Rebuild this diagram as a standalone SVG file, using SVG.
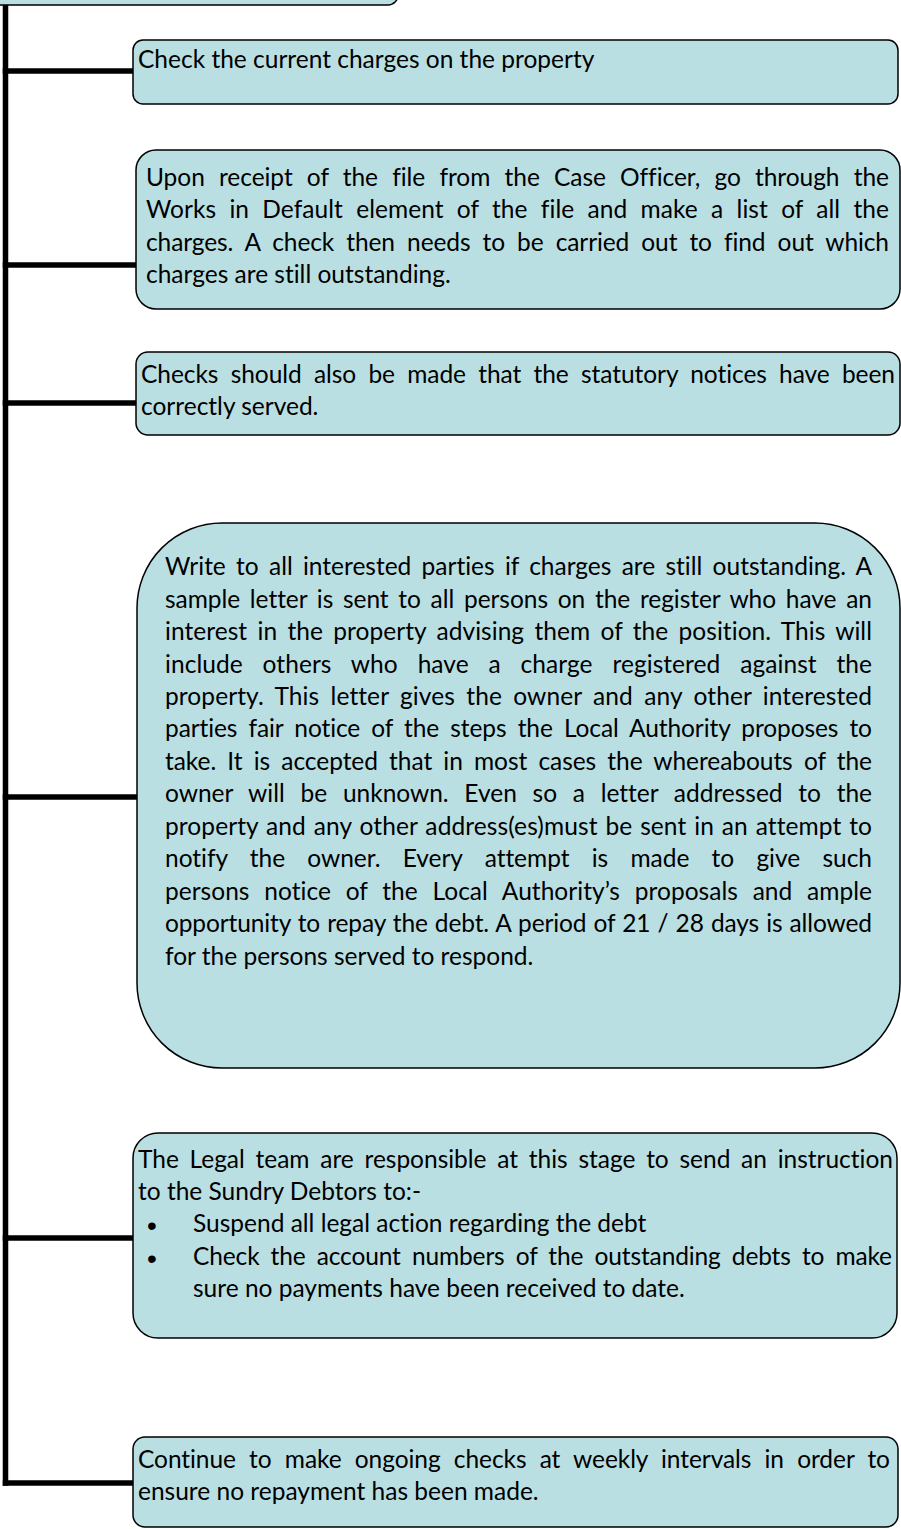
<svg xmlns="http://www.w3.org/2000/svg" width="901" height="1529" viewBox="0 0 901 1529">
  <style>
    .box { fill: #B9DFE3; stroke: #000000; stroke-width: 1.5; }
    .t { font-family: Lato, "Open Sans", "Liberation Sans", sans-serif; font-size: 24.5px; fill: #000000; font-variant-ligatures: none; font-feature-settings: "liga" 0, "clig" 0, "dlig" 0; }
    .b { font-family: "Liberation Sans", Arial, sans-serif; font-size: 28px; fill: #000000; }
    .conn { stroke: #000000; stroke-width: 5.5; fill: none; stroke-linecap: square; }
  </style>
  <rect width="901" height="1529" fill="#FFFFFF"/>

  <g id="connectors">
    <line class="conn" x1="5.5" y1="6" x2="5.5" y2="1483"/>
    <line class="conn" x1="5.5" y1="71" x2="131" y2="71"/>
    <line class="conn" x1="5.5" y1="265" x2="134" y2="265"/>
    <line class="conn" x1="5.5" y1="403" x2="134" y2="403"/>
    <line class="conn" x1="5.5" y1="797" x2="135" y2="797"/>
    <line class="conn" x1="5.5" y1="1238" x2="131" y2="1238"/>
    <line class="conn" x1="5.5" y1="1483" x2="131" y2="1483"/>
  </g>

  <g id="node-top">
    <rect class="box" x="-20" y="-40" width="418" height="45" rx="10"/>
  </g>

  <g id="node-1">
    <rect class="box" x="133" y="40" width="765" height="64" rx="10"/>
    <text class="t" x="138" y="68">Check the current charges on the property</text>
  </g>

  <g id="node-2">
    <rect class="box" x="136" y="150" width="764" height="159" rx="20"/>
    <text class="t" x="146" y="186" textLength="743" lengthAdjust="spacing" word-spacing="8">Upon receipt of the file from the Case Officer, go through the</text>
    <text class="t" x="146" y="218" textLength="743" lengthAdjust="spacing" word-spacing="7">Works in Default element of the file and make a list of all the</text>
    <text class="t" x="146" y="251" textLength="743" lengthAdjust="spacing" word-spacing="6">charges. A check then needs to be carried out to find out which</text>
    <text class="t" x="146" y="283">charges are still outstanding.</text>
  </g>

  <g id="node-3">
    <rect class="box" x="136" y="352" width="764" height="83" rx="12"/>
    <text class="t" x="141" y="383" textLength="754" lengthAdjust="spacing" word-spacing="6">Checks should also be made that the statutory notices have been</text>
    <text class="t" x="141" y="415">correctly served.</text>
  </g>

  <g id="node-4">
    <rect class="box" x="137" y="523" width="763" height="545" rx="85"/>
    <text class="t" x="165" y="575" textLength="707" lengthAdjust="spacing" word-spacing="4">Write to all interested parties if charges are still outstanding. A</text>
    <text class="t" x="165" y="608" textLength="707" lengthAdjust="spacing" word-spacing="3.5">sample letter is sent to all persons on the register who have an</text>
    <text class="t" x="165" y="640" textLength="707" lengthAdjust="spacing" word-spacing="4">interest in the property advising them of the position. This will</text>
    <text class="t" x="165" y="673" textLength="707" lengthAdjust="spacing" word-spacing="13.5">include others who have a charge registered against the</text>
    <text class="t" x="165" y="705" textLength="707" lengthAdjust="spacing" word-spacing="5">property. This letter gives the owner and any other interested</text>
    <text class="t" x="165" y="737" textLength="707" lengthAdjust="spacing" word-spacing="5">parties fair notice of the steps the Local Authority proposes to</text>
    <text class="t" x="165" y="770" textLength="707" lengthAdjust="spacing" word-spacing="5">take. It is accepted that in most cases the whereabouts of the</text>
    <text class="t" x="165" y="802" textLength="707" lengthAdjust="spacing" word-spacing="9.5">owner will be unknown. Even so a letter addressed to the</text>
    <text class="t" x="165" y="835" textLength="707" lengthAdjust="spacing" word-spacing="1.5">property and any other address(es)must be sent in an attempt to</text>
    <text class="t" x="165" y="867" textLength="707" lengthAdjust="spacing" word-spacing="16">notify the owner. Every attempt is made to give such</text>
    <text class="t" x="165" y="900" textLength="707" lengthAdjust="spacing" word-spacing="8.5">persons notice of the Local Authority’s proposals and ample</text>
    <text class="t" x="165" y="932" textLength="707" lengthAdjust="spacing" word-spacing="1">opportunity to repay the debt. A period of 21 / 28 days is allowed</text>
    <text class="t" x="165" y="965">for the persons served to respond.</text>
  </g>

  <g id="node-5">
    <rect class="box" x="133" y="1133" width="764" height="205" rx="25"/>
    <text class="t" x="138" y="1168" textLength="755" lengthAdjust="spacing" word-spacing="4.5">The Legal team are responsible at this stage to send an instruction</text>
    <text class="t" x="138" y="1200">to the Sundry Debtors to:-</text>
    <text class="b" x="147" y="1235">•</text>
    <text class="t" x="193" y="1232">Suspend all legal action regarding the debt</text>
    <text class="b" x="147" y="1268">•</text>
    <text class="t" x="193" y="1265" textLength="699" lengthAdjust="spacing" word-spacing="5">Check the account numbers of the outstanding debts to make</text>
    <text class="t" x="193" y="1297">sure no payments have been received to date.</text>
  </g>

  <g id="node-6">
    <rect class="box" x="133" y="1437" width="765" height="90" rx="12"/>
    <text class="t" x="138" y="1468" textLength="752" lengthAdjust="spacing" word-spacing="7">Continue to make ongoing checks at weekly intervals in order to</text>
    <text class="t" x="138" y="1500">ensure no repayment has been made.</text>
  </g>
</svg>
